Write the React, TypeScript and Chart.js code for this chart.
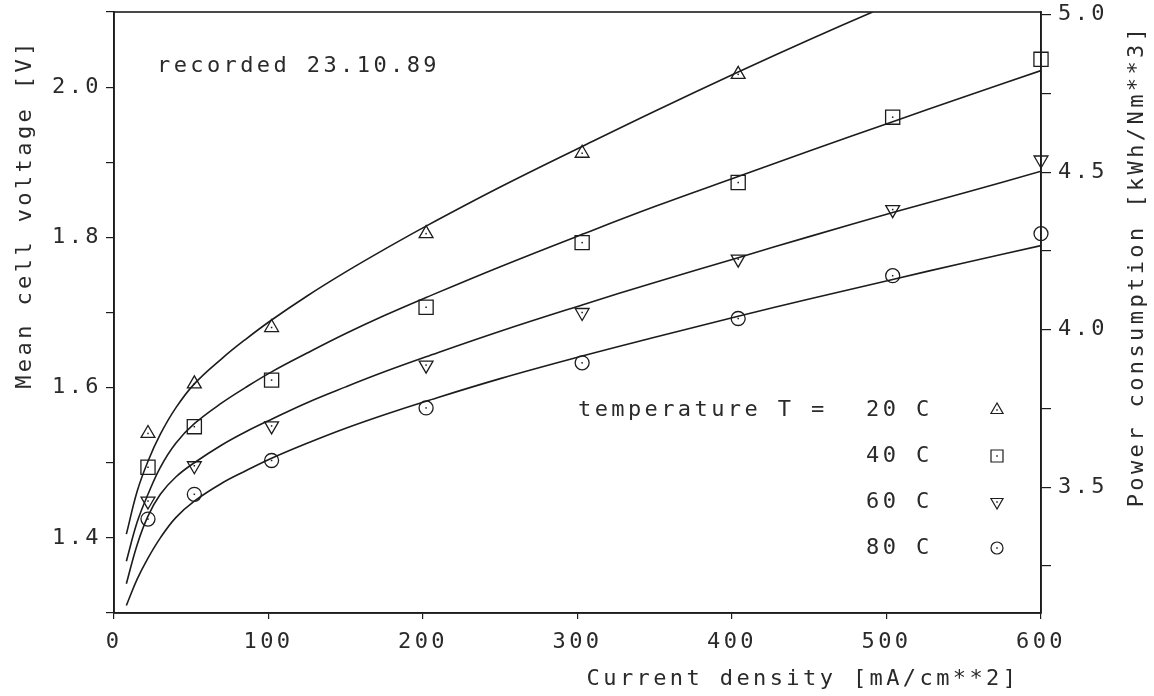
import React, { useEffect, useRef } from 'react';
import { Chart, registerables } from 'chart.js';

Chart.register(...registerables);

// conversion factor: power consumption [kWh/Nm**3] per volt
const K = 2.385;

// measured points (current density, mean cell voltage)
const markerX = [22, 52, 102, 202, 303, 404, 504, 600];
const m20 = [1.539, 1.605, 1.68, 1.805, 1.912, 2.017];
const m40 = [1.494, 1.548, 1.61, 1.707, 1.793, 1.873, 1.96, 2.037];
const m60 = [1.449, 1.496, 1.549, 1.63, 1.7, 1.771, 1.837, 1.903];
const m80 = [1.425, 1.458, 1.503, 1.573, 1.633, 1.692, 1.749, 1.805];

// fitted curves
const curveX20 = [8, 15, 22, 30, 40, 52, 70, 85, 102, 125, 150, 175, 202, 250, 303, 350, 404, 450, 491];
const c20 = [1.405, 1.462, 1.502, 1.538, 1.573, 1.605, 1.639, 1.664, 1.69, 1.722, 1.754, 1.784, 1.815, 1.867, 1.921, 1.968, 2.02, 2.063, 2.1];
const curveX = [8, 15, 22, 30, 40, 52, 70, 85, 102, 125, 150, 175, 202, 250, 303, 350, 404, 450, 504, 550, 600];
const c40 = [1.369, 1.421, 1.458, 1.494, 1.526, 1.552, 1.58, 1.6, 1.621, 1.646, 1.672, 1.696, 1.72, 1.761, 1.804, 1.841, 1.881, 1.915, 1.954, 1.987, 2.022];
const c60 = [1.339, 1.391, 1.429, 1.458, 1.481, 1.5, 1.524, 1.541, 1.558, 1.58, 1.601, 1.621, 1.641, 1.675, 1.71, 1.74, 1.773, 1.801, 1.833, 1.859, 1.888];
const c80 = [1.31, 1.345, 1.373, 1.4, 1.427, 1.449, 1.473, 1.489, 1.506, 1.526, 1.546, 1.564, 1.582, 1.612, 1.642, 1.667, 1.695, 1.718, 1.744, 1.766, 1.789];

const legendTemps = ['20 C', '40 C', '60 C', '80 C'];
const xTicks = [0, 100, 200, 300, 400, 500, 600];
const rightTicks = [3.25, 3.5, 3.75, 4.0, 4.25, 4.5, 4.75, 5.0];
const rightLabels = [3.5, 4.0, 4.5, 5.0];

const FONT = '"DejaVu Sans Mono", "Liberation Mono", monospace';
const FS = 22;
const SPACING = '3.4px';
const INK = '#1c1c1c';
const TXT = '#2a2a2a';

function pts(xs: number[], ys: number[]) {
  return ys.map((y, i) => ({ x: xs[i], y }));
}

function drawSymbol(ctx: CanvasRenderingContext2D, kind: string, x: number, y: number) {
  ctx.beginPath();
  if (kind === 'tri' || kind === 'itri') {
    const r = 7;
    const s = kind === 'tri' ? 1 : -1;
    ctx.moveTo(x, y - s * r);
    ctx.lineTo(x - r * 0.866, y + s * r * 0.5);
    ctx.lineTo(x + r * 0.866, y + s * r * 0.5);
    ctx.closePath();
  } else if (kind === 'rect') {
    ctx.rect(x - 6, y - 6, 12, 12);
  } else {
    ctx.arc(x, y, 6, 0, Math.PI * 2);
  }
  ctx.stroke();
  ctx.fillRect(x - 0.75, y - 0.75, 1.5, 1.5);
}

const decor = {
  id: 'decor',
  beforeDraw(chart: any) {
    const ctx = chart.ctx;
    ctx.letterSpacing = SPACING;
    ctx.fillStyle = '#ffffff';
    ctx.fillRect(0, 0, chart.width, chart.height);
  },
  afterDatasetsDraw(chart: any) {
    const ctx = chart.ctx;
    ctx.save();
    ctx.fillStyle = INK;
    for (let d = 4; d < 8; d++) {
      const meta = chart.getDatasetMeta(d);
      meta.data.forEach((p: any) => ctx.fillRect(p.x - 0.75, p.y - 0.75, 1.5, 1.5));
    }
    ctx.restore();
  },
  afterDraw(chart: any) {
    const ctx = chart.ctx;
    const a = chart.chartArea;
    ctx.save();
    ctx.letterSpacing = SPACING;
    ctx.strokeStyle = INK;
    ctx.lineWidth = 1.6;
    ctx.strokeRect(a.left, a.top, a.right - a.left, a.bottom - a.top);

    ctx.fillStyle = TXT;
    ctx.font = `${FS}px ${FONT}`;
    ctx.textBaseline = 'middle';
    ctx.textAlign = 'left';
    ctx.fillText('recorded 23.10.89', 157, 66);

    // legend
    ctx.fillText('temperature T =', 578, 410);
    const rows = [410, 456, 502, 548];
    const kinds = ['tri', 'rect', 'itri', 'circ'];
    rows.forEach((y, i) => {
      ctx.fillText(legendTemps[i], 866, y);
    });
    ctx.lineWidth = 1.2;
    ctx.fillStyle = INK;
    rows.forEach((y, i) => drawSymbol(ctx, kinds[i], 997, y));

    // axis titles
    ctx.fillStyle = TXT;
    ctx.textAlign = 'center';
    ctx.fillText('Current density [mA/cm**2]', 803, 679);
    ctx.save();
    ctx.translate(25, 214);
    ctx.rotate(-Math.PI / 2);
    ctx.fillText('Mean cell voltage [V]', 0, 0);
    ctx.restore();
    ctx.save();
    ctx.translate(1137, 266);
    ctx.rotate(-Math.PI / 2);
    ctx.fillText('Power consumption [kWh/Nm**3]', 0, 0);
    ctx.restore();
    ctx.restore();
  },
};

function noPad(s: any) {
  s.paddingTop = 0;
  s.paddingBottom = 0;
  s.paddingLeft = 0;
  s.paddingRight = 0;
}

export default function App() {
  const ref = useRef<HTMLCanvasElement | null>(null);

  useEffect(() => {
    if (!ref.current) return;
    const curveStyle = {
      type: 'line' as const,
      borderColor: INK,
      borderWidth: 1.6,
      pointRadius: 0,
      fill: false,
      tension: 0.4,
      yAxisID: 'y',
    };
    const markStyle = {
      type: 'line' as const,
      showLine: false,
      clip: false,
      pointBorderColor: INK,
      pointBackgroundColor: 'rgba(0,0,0,0)',
      pointBorderWidth: 1.3,
      yAxisID: 'y',
    };
    const tickFont = { family: FONT, size: FS };
    const chart = new Chart(ref.current, {
      type: 'line',
      data: {
        datasets: [
          { ...curveStyle, label: 'fit 20', data: pts(curveX20, c20) },
          { ...curveStyle, label: 'fit 40', data: pts(curveX, c40) },
          { ...curveStyle, label: 'fit 60', data: pts(curveX, c60) },
          { ...curveStyle, label: 'fit 80', data: pts(curveX, c80) },
          { ...markStyle, label: '20 C', data: pts(markerX, m20), pointStyle: 'triangle', pointRadius: 8 },
          { ...markStyle, label: '40 C', data: pts(markerX, m40), pointStyle: 'rect', pointRadius: 10 },
          { ...markStyle, label: '60 C', data: pts(markerX, m60), pointStyle: 'triangle', pointRadius: 8, pointRotation: 180 },
          { ...markStyle, label: '80 C', data: pts(markerX, m80), pointStyle: 'circle', pointRadius: 7 },
        ] as any,
      },
      options: {
        animation: false,
        responsive: false,
        events: [],
        layout: { padding: { top: 12, left: 0, right: 0, bottom: 0 } },
        plugins: { legend: { display: false }, tooltip: { enabled: false } },
        scales: {
          x: {
            type: 'linear',
            min: 0,
            max: 600,
            afterBuildTicks: (s: any) => { s.ticks = xTicks.map((v) => ({ value: v })); },
            afterFit: (s: any) => { s.height = 83; noPad(s); },
            ticks: { font: tickFont, color: TXT, padding: 10, maxRotation: 0, autoSkip: false, callback: (v: any) => String(v) },
            grid: { drawOnChartArea: false, drawTicks: true, tickLength: 6, color: INK, lineWidth: 1.2 },
            border: { color: INK, width: 1.6 },
          },
          y: {
            type: 'linear',
            position: 'left',
            min: 1.3,
            max: 2.1,
            afterFit: (s: any) => { s.width = 114; noPad(s); },
            ticks: {
              stepSize: 0.1,
              font: tickFont,
              color: TXT,
              padding: 4,
              callback: (v: any) => (Math.round(v * 10) % 2 === 0 && v > 1.35 && v < 2.05 ? Number(v).toFixed(1) : ''),
            },
            grid: { drawOnChartArea: false, drawTicks: true, tickLength: 8, color: INK, lineWidth: 1.2 },
            border: { color: INK, width: 1.6 },
          },
          y2: {
            type: 'linear',
            position: 'right',
            min: 1.3 * K,
            max: 2.1 * K,
            afterBuildTicks: (s: any) => { s.ticks = rightTicks.map((v) => ({ value: v })); },
            afterFit: (s: any) => { s.width = 113; noPad(s); },
            ticks: {
              font: tickFont,
              color: TXT,
              padding: 7,
              autoSkip: false,
              callback: (v: any) => (rightLabels.some((r) => Math.abs(r - v) < 1e-6) ? Number(v).toFixed(1) : ''),
            },
            grid: { drawOnChartArea: false, drawTicks: true, tickLength: 10, color: INK, lineWidth: 1.2 },
            border: { color: INK, width: 1.6 },
          },
        },
      } as any,
      plugins: [decor],
    });
    return () => chart.destroy();
  }, []);

  return (
    <div style={{ position: 'fixed', left: 0, top: 0, width: 1154, height: 696, background: '#fff' }}>
      <canvas ref={ref} width={1154} height={696} style={{ display: 'block', width: 1154, height: 696 }} />
    </div>
  );
}
